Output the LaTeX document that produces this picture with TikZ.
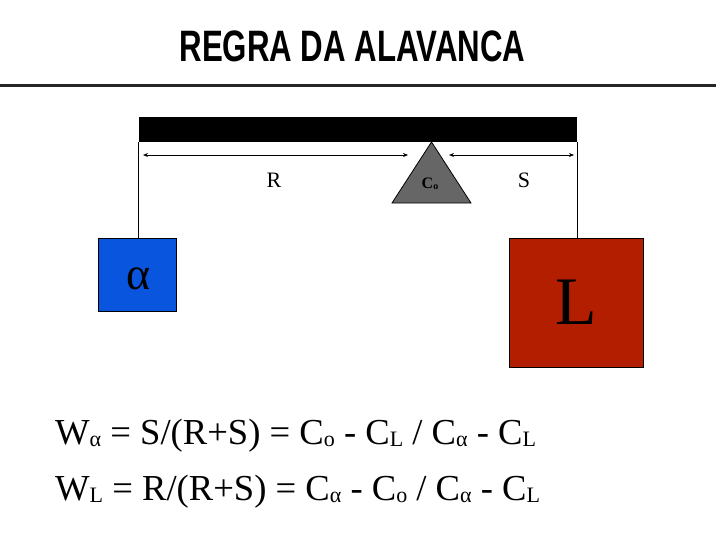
\documentclass[tikz,border=0pt]{standalone}
\usepackage{fontspec}
\setmainfont{Liberation Serif}
\newfontfamily\titlefont{Liberation Sans}
\usetikzlibrary{arrows.meta, positioning, calc}

\definecolor{alphablue}{RGB}{10,85,222}
\definecolor{loadred}{RGB}{180,30,0}
\definecolor{pivotgray}{RGB}{102,102,102}

\newcommand{\subtxt}[1]{\raisebox{-2pt}{\fontsize{22}{22}\selectfont #1}}

\begin{document}
\begin{tikzpicture}[
  x=1pt, y=-1pt,
  beam/.style={fill=black, inner sep=0pt, minimum width=438pt, minimum height=25pt},
  weight/.style={draw=black, line width=1pt, inner sep=0pt},
  pivot/.style={draw=black, line width=0.8pt, fill=pivotgray},
  dim/.style={{Stealth[length=5pt, width=4pt]}-{Stealth[length=5pt, width=4pt]}, line width=0.7pt},
  eq/.style={anchor=base west, inner sep=0pt, font=\fontsize{36.6}{36.6}\selectfont}
]
\useasboundingbox (0,0) rectangle (728,546);

% title
\node[font=\titlefont\bfseries\fontsize{44}{44}\selectfont, xscale=0.71] (title) at (352.5,46) {REGRA DA ALAVANCA};
\coordinate (ruleL) at (0,85);
\coordinate (ruleR) at (716,85);
\draw[line width=3pt, black!85] (ruleL) -- (ruleR);

% lever
\node[beam] (beam) at (358,129.2) {};
\coordinate (apex) at (431.5,142);
\coordinate (baseR) at (471,203);
\coordinate (baseL) at (392,203);
\draw[pivot] (apex) -- (baseR) -- (baseL) -- cycle;
\node[font=\bfseries\fontsize{16}{16}\selectfont] (co) at (430,184) {C\raisebox{-1pt}{\fontsize{10}{10}\selectfont o}};

% distances
\coordinate (rStart) at (143,155);
\coordinate (rEnd) at (408,155);
\coordinate (sStart) at (449,155);
\coordinate (sEnd) at (574,155);
\draw[dim] (rStart) -- (rEnd);
\draw[dim] (sStart) -- (sEnd);
\node[font=\fontsize{22}{22}\selectfont] (rlab) at (274,180) {R};
\node[font=\fontsize{22}{22}\selectfont] (slab) at (524,180) {S};

% weights
\node[weight, fill=alphablue, minimum width=78pt, minimum height=73pt] (alpha) at (137.5,274.5) {};
\node[font=\fontsize{46}{46}\selectfont] (alphalab) at ($(alpha.center)+(1,4)$) {α};
\node[weight, fill=loadred, minimum width=134pt, minimum height=129pt, font=\fontsize{68}{68}\selectfont] (load) at (576.5,302.5) {L};
\draw[line width=0.8pt] (beam.south west) -- (beam.south west |- alpha.north);
\draw[line width=0.8pt] (beam.south east) -- (beam.south east |- load.north);

% equations
\node[eq] (eqa) at (55,444) {W\subtxt{α} = S/(R+S) = C\subtxt{o} - C\subtxt{L} / C\subtxt{α} - C\subtxt{L}};
\node[eq] (eql) at (55,500) {W\subtxt{L} = R/(R+S) = C\subtxt{α} - C\subtxt{o} / C\subtxt{α} - C\subtxt{L}};
\end{tikzpicture}
\end{document}
